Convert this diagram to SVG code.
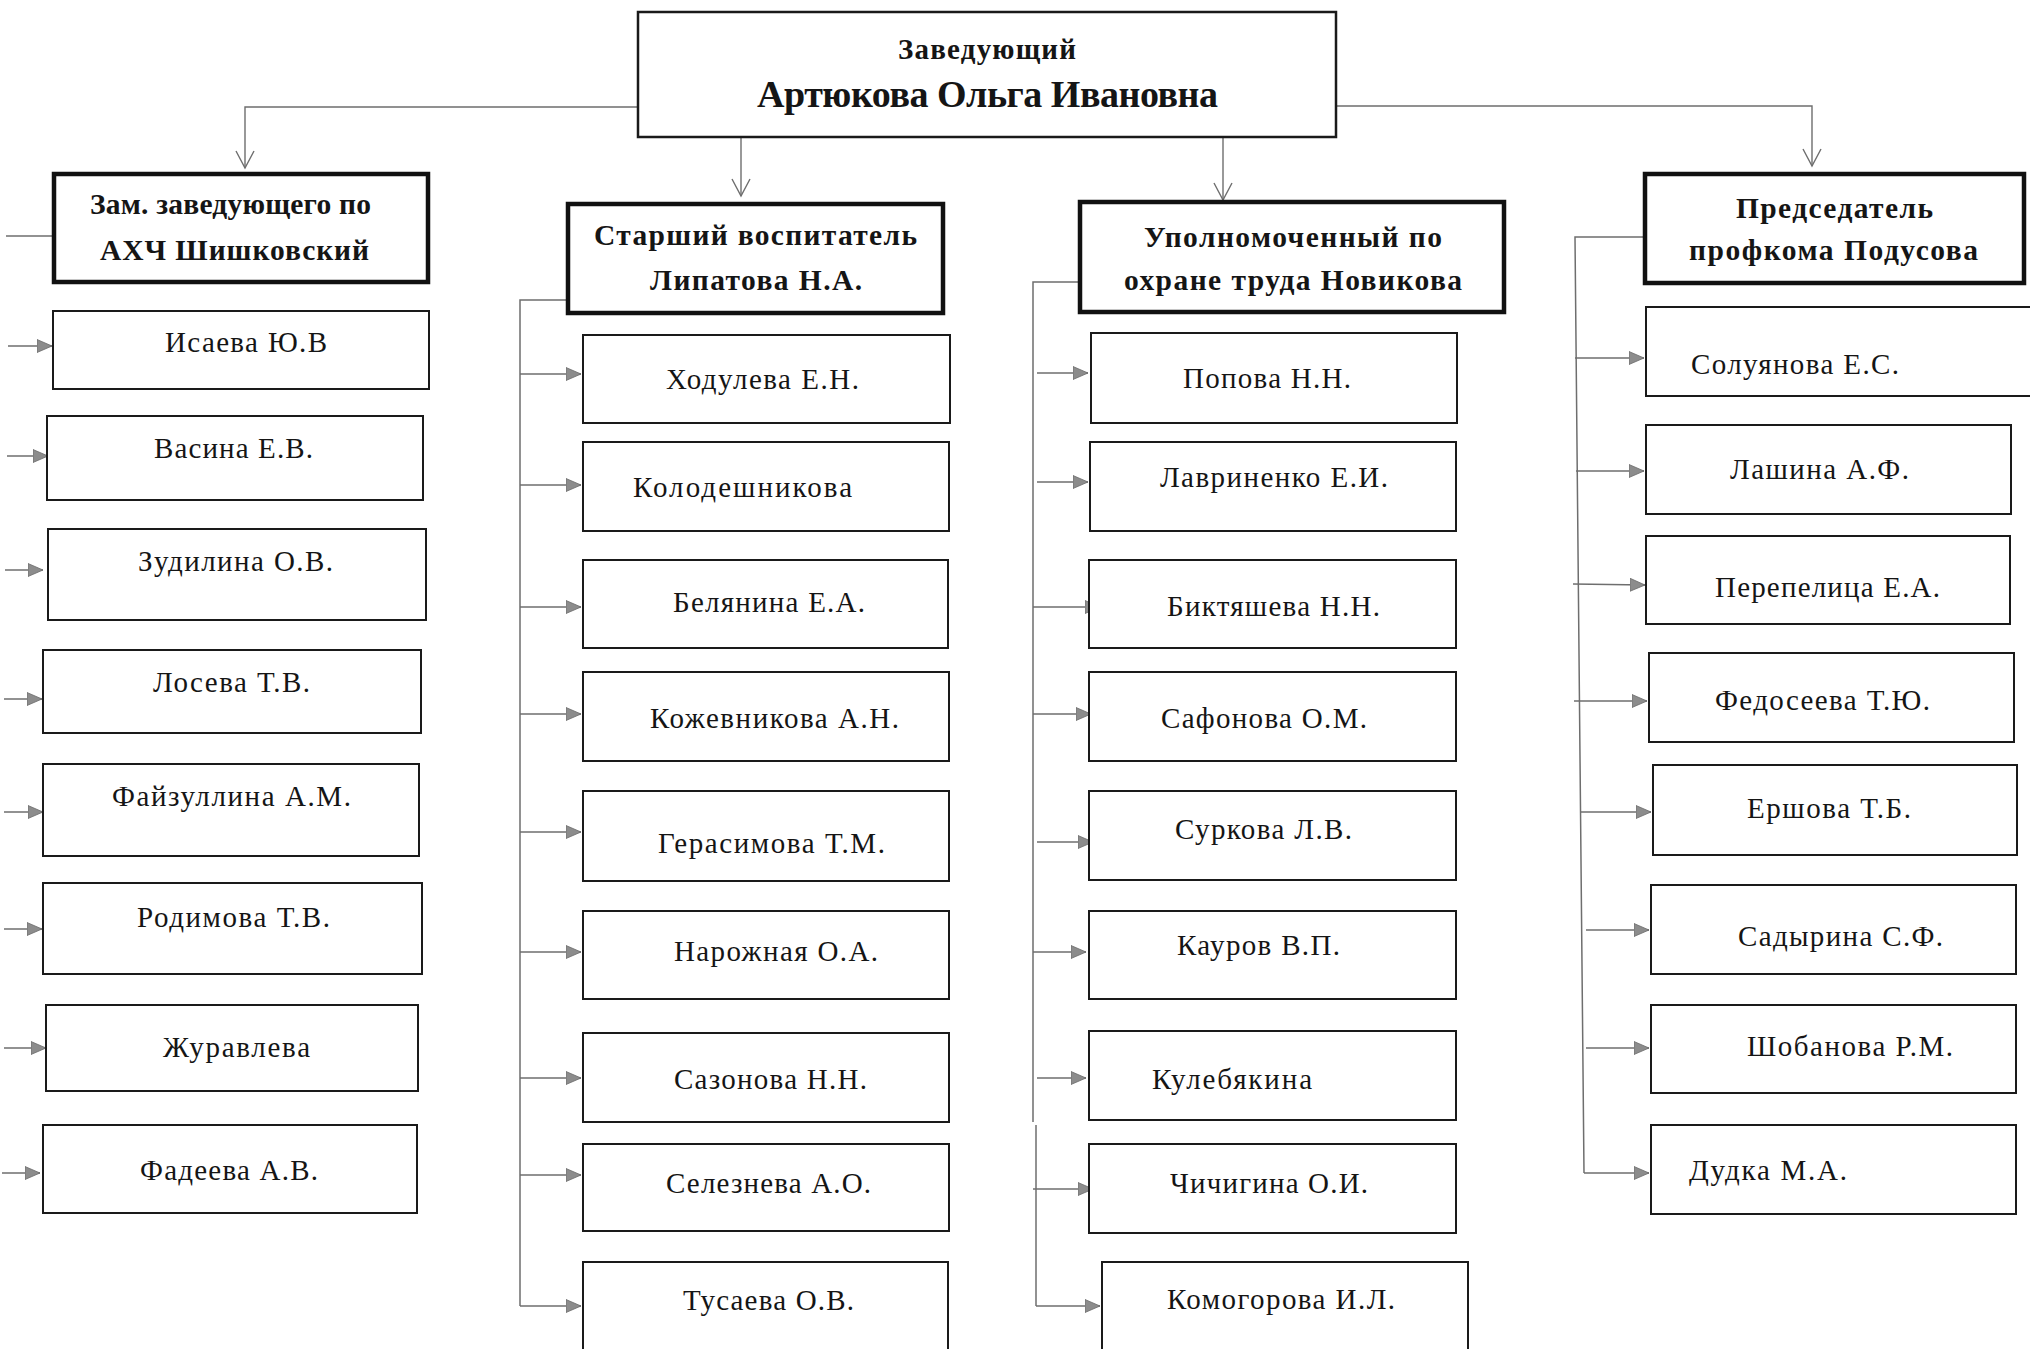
<svg xmlns="http://www.w3.org/2000/svg" width="2030" height="1349" viewBox="0 0 2030 1349">
<style>
  .bg{fill:#ffffff}
  .box{fill:#ffffff;stroke:#1a1a1a;stroke-width:2}
  .head{fill:#ffffff;stroke:#111111;stroke-width:4.5}
  .top{fill:#ffffff;stroke:#1a1a1a;stroke-width:2.5}
  .t{font-family:"Liberation Serif","Times New Roman",serif;fill:#151515}
  .b{font-weight:bold;font-size:29.5px}
  .t1{font-weight:bold;font-size:29px}
  .t2{font-weight:bold;font-size:38px}
  .n{font-size:29px}
  .ln{fill:none;stroke:#6e6e6e;stroke-width:1.5}
  .ar{fill:none;stroke:#6e6e6e;stroke-width:1.5;marker-end:url(#fa)}
  .va{fill:none;stroke:#6e6e6e;stroke-width:1.4;marker-end:url(#va)}
</style>
<defs>
  <marker id="fa" viewBox="0 0 16 14" refX="15" refY="7" markerWidth="16" markerHeight="14" markerUnits="userSpaceOnUse" orient="auto">
    <path d="M0,0.5 L15,7 L0,13.5 z" fill="#8c8c8c" stroke="#6a6a6a" stroke-width="0.8"/>
  </marker>
  <marker id="va" viewBox="0 -11 18 22" refX="17" refY="0" markerWidth="18" markerHeight="22" markerUnits="userSpaceOnUse" orient="auto" overflow="visible">
    <path d="M0,-9 L17,0 L0,9" fill="none" stroke="#6e6e6e" stroke-width="1.4"/>
  </marker>
</defs>
<rect class="bg" x="0" y="0" width="2030" height="1349"/>

<g id="connectors">
  <polyline class="va" points="638,107 245,107 245,168"/>
  <polyline class="va" points="741,137 741,196"/>
  <polyline class="va" points="1223,137 1223,200"/>
  <polyline class="va" points="1336,106 1812,106 1812,166"/>
  <line class="ln" x1="6" y1="236" x2="54" y2="236"/>
  <line class="ar" x1="8" y1="346" x2="52" y2="346"/>
  <line class="ar" x1="7" y1="456" x2="48" y2="456"/>
  <line class="ar" x1="5" y1="570" x2="43" y2="570"/>
  <line class="ar" x1="4" y1="699" x2="42" y2="699"/>
  <line class="ar" x1="4" y1="812" x2="43" y2="812"/>
  <line class="ar" x1="4" y1="929" x2="42" y2="929"/>
  <line class="ar" x1="4" y1="1048" x2="46" y2="1048"/>
  <line class="ar" x1="2" y1="1173" x2="40" y2="1173"/>
  <polyline class="ln" points="568,300 520,300 520,1306"/>
  <line class="ar" x1="520" y1="374" x2="581" y2="374"/>
  <line class="ar" x1="520" y1="485" x2="581" y2="485"/>
  <line class="ar" x1="520" y1="607" x2="581" y2="607"/>
  <line class="ar" x1="520" y1="714" x2="581" y2="714"/>
  <line class="ar" x1="520" y1="832" x2="581" y2="832"/>
  <line class="ar" x1="520" y1="952" x2="581" y2="952"/>
  <line class="ar" x1="520" y1="1078" x2="581" y2="1078"/>
  <line class="ar" x1="520" y1="1175" x2="581" y2="1175"/>
  <line class="ar" x1="520" y1="1306" x2="581" y2="1306"/>
  <polyline class="ln" points="1080,282 1033,282 1033,1122"/>
  <line class="ln" x1="1036" y1="1125" x2="1036" y2="1306"/>
  <line class="ar" x1="1037" y1="373" x2="1088" y2="373"/>
  <line class="ar" x1="1037" y1="482" x2="1088" y2="482"/>
  <line class="ar" x1="1033" y1="607" x2="1100" y2="607"/>
  <line class="ar" x1="1033" y1="714" x2="1091" y2="714"/>
  <line class="ar" x1="1037" y1="842" x2="1093" y2="842"/>
  <line class="ar" x1="1033" y1="952" x2="1086" y2="952"/>
  <line class="ar" x1="1037" y1="1078" x2="1086" y2="1078"/>
  <line class="ar" x1="1033" y1="1189" x2="1093" y2="1189"/>
  <line class="ar" x1="1036" y1="1306" x2="1100" y2="1306"/>
  <polyline class="ln" points="1645,237 1575,237 1584,1173"/>
  <line class="ar" x1="1575" y1="358" x2="1644" y2="358"/>
  <line class="ar" x1="1576" y1="471" x2="1644" y2="471"/>
  <line class="ar" x1="1573" y1="584" x2="1645" y2="585"/>
  <line class="ar" x1="1574" y1="701" x2="1647" y2="701"/>
  <line class="ar" x1="1581" y1="812" x2="1651" y2="812"/>
  <line class="ar" x1="1586" y1="930" x2="1649" y2="930"/>
  <line class="ar" x1="1586" y1="1048" x2="1649" y2="1048"/>
  <line class="ar" x1="1584" y1="1173" x2="1649" y2="1173"/>
</g>

<g id="director">
  <rect class="top" x="638" y="12" width="698" height="125"/>
  <text class="t t1" x="898" y="59" textLength="178" lengthAdjust="spacing">Заведующий</text>
  <text class="t t2" x="757" y="107" textLength="461" lengthAdjust="spacing">Артюкова Ольга Ивановна</text>
</g>

<g id="head-ahch">
  <rect class="head" x="54" y="174" width="374" height="108"/>
  <text class="t b" x="90" y="214" textLength="281" lengthAdjust="spacing">Зам. заведующего по</text>
  <text class="t b" x="100" y="260" textLength="269" lengthAdjust="spacing">АХЧ Шишковский</text>
</g>
<g id="head-senior">
  <rect class="head" x="568" y="204" width="375" height="109"/>
  <text class="t b" x="594" y="245" textLength="323" lengthAdjust="spacing">Старший воспитатель</text>
  <text class="t b" x="650" y="290" textLength="212" lengthAdjust="spacing">Липатова Н.А.</text>
</g>
<g id="head-safety">
  <rect class="head" x="1080" y="202" width="424" height="110"/>
  <text class="t b" x="1144" y="247" textLength="298" lengthAdjust="spacing">Уполномоченный по</text>
  <text class="t b" x="1124" y="290" textLength="338" lengthAdjust="spacing">охране труда Новикова</text>
</g>
<g id="head-union">
  <rect class="head" x="1645" y="174" width="379" height="109"/>
  <text class="t b" x="1736" y="218" textLength="197" lengthAdjust="spacing">Председатель</text>
  <text class="t b" x="1689" y="260" textLength="289" lengthAdjust="spacing">профкома Подусова</text>
</g>

<g id="l1"><rect class="box" x="53" y="311" width="376" height="78"/><text class="t n" x="165" y="352" textLength="162" lengthAdjust="spacing">Исаева Ю.В</text></g>
<g id="l2"><rect class="box" x="47" y="416" width="376" height="84"/><text class="t n" x="154" y="458" textLength="159" lengthAdjust="spacing">Васина Е.В.</text></g>
<g id="l3"><rect class="box" x="48" y="529" width="378" height="91"/><text class="t n" x="138" y="571" textLength="195" lengthAdjust="spacing">Зудилина О.В.</text></g>
<g id="l4"><rect class="box" x="43" y="650" width="378" height="83"/><text class="t n" x="153" y="692" textLength="157" lengthAdjust="spacing">Лосева Т.В.</text></g>
<g id="l5"><rect class="box" x="43" y="764" width="376" height="92"/><text class="t n" x="112" y="806" textLength="239" lengthAdjust="spacing">Файзуллина А.М.</text></g>
<g id="l6"><rect class="box" x="43" y="883" width="379" height="91"/><text class="t n" x="137" y="927" textLength="193" lengthAdjust="spacing">Родимова Т.В.</text></g>
<g id="l7"><rect class="box" x="46" y="1005" width="372" height="86"/><text class="t n" x="163" y="1057" textLength="147" lengthAdjust="spacing">Журавлева</text></g>
<g id="l8"><rect class="box" x="43" y="1125" width="374" height="88"/><text class="t n" x="140" y="1180" textLength="178" lengthAdjust="spacing">Фадеева А.В.</text></g>

<g id="s1"><rect class="box" x="583" y="335" width="367" height="88"/><text class="t n" x="666" y="389" textLength="193" lengthAdjust="spacing">Ходулева Е.Н.</text></g>
<g id="s2"><rect class="box" x="583" y="442" width="366" height="89"/><text class="t n" x="633" y="497" textLength="219" lengthAdjust="spacing">Колодешникова</text></g>
<g id="s3"><rect class="box" x="583" y="560" width="365" height="88"/><text class="t n" x="673" y="612" textLength="192" lengthAdjust="spacing">Белянина Е.А.</text></g>
<g id="s4"><rect class="box" x="583" y="672" width="366" height="89"/><text class="t n" x="650" y="728" textLength="249" lengthAdjust="spacing">Кожевникова А.Н.</text></g>
<g id="s5"><rect class="box" x="583" y="791" width="366" height="90"/><text class="t n" x="658" y="853" textLength="227" lengthAdjust="spacing">Герасимова Т.М.</text></g>
<g id="s6"><rect class="box" x="583" y="911" width="366" height="88"/><text class="t n" x="674" y="961" textLength="204" lengthAdjust="spacing">Нарожная О.А.</text></g>
<g id="s7"><rect class="box" x="583" y="1033" width="366" height="89"/><text class="t n" x="674" y="1089" textLength="193" lengthAdjust="spacing">Сазонова Н.Н.</text></g>
<g id="s8"><rect class="box" x="583" y="1144" width="366" height="87"/><text class="t n" x="666" y="1193" textLength="205" lengthAdjust="spacing">Селезнева А.О.</text></g>
<g id="s9"><rect class="box" x="583" y="1262" width="365" height="92"/><text class="t n" x="683" y="1310" textLength="171" lengthAdjust="spacing">Тусаева О.В.</text></g>

<g id="u1"><rect class="box" x="1091" y="333" width="366" height="90"/><text class="t n" x="1183" y="388" textLength="168" lengthAdjust="spacing">Попова Н.Н.</text></g>
<g id="u2"><rect class="box" x="1090" y="442" width="366" height="89"/><text class="t n" x="1160" y="487" textLength="228" lengthAdjust="spacing">Лавриненко Е.И.</text></g>
<g id="u3"><rect class="box" x="1089" y="560" width="367" height="88"/><text class="t n" x="1167" y="616" textLength="213" lengthAdjust="spacing">Биктяшева Н.Н.</text></g>
<g id="u4"><rect class="box" x="1089" y="672" width="367" height="89"/><text class="t n" x="1161" y="728" textLength="206" lengthAdjust="spacing">Сафонова О.М.</text></g>
<g id="u5"><rect class="box" x="1089" y="791" width="367" height="89"/><text class="t n" x="1175" y="839" textLength="177" lengthAdjust="spacing">Суркова Л.В.</text></g>
<g id="u6"><rect class="box" x="1089" y="911" width="367" height="88"/><text class="t n" x="1177" y="955" textLength="163" lengthAdjust="spacing">Кауров В.П.</text></g>
<g id="u7"><rect class="box" x="1089" y="1031" width="367" height="89"/><text class="t n" x="1152" y="1089" textLength="160" lengthAdjust="spacing">Кулебякина</text></g>
<g id="u8"><rect class="box" x="1089" y="1144" width="367" height="89"/><text class="t n" x="1170" y="1193" textLength="198" lengthAdjust="spacing">Чичигина О.И.</text></g>
<g id="u9"><rect class="box" x="1102" y="1262" width="366" height="92"/><text class="t n" x="1167" y="1309" textLength="228" lengthAdjust="spacing">Комогорова И.Л.</text></g>

<g id="p1"><rect class="box" x="1646" y="307" width="390" height="89"/><text class="t n" x="1691" y="374" textLength="208" lengthAdjust="spacing">Солуянова Е.С.</text></g>
<g id="p2"><rect class="box" x="1646" y="425" width="365" height="89"/><text class="t n" x="1730" y="479" textLength="179" lengthAdjust="spacing">Лашина А.Ф.</text></g>
<g id="p3"><rect class="box" x="1646" y="536" width="364" height="88"/><text class="t n" x="1715" y="597" textLength="225" lengthAdjust="spacing">Перепелица Е.А.</text></g>
<g id="p4"><rect class="box" x="1649" y="653" width="365" height="89"/><text class="t n" x="1715" y="710" textLength="215" lengthAdjust="spacing">Федосеева Т.Ю.</text></g>
<g id="p5"><rect class="box" x="1653" y="765" width="364" height="90"/><text class="t n" x="1747" y="818" textLength="164" lengthAdjust="spacing">Ершова Т.Б.</text></g>
<g id="p6"><rect class="box" x="1651" y="885" width="365" height="89"/><text class="t n" x="1738" y="946" textLength="205" lengthAdjust="spacing">Садырина С.Ф.</text></g>
<g id="p7"><rect class="box" x="1651" y="1005" width="365" height="88"/><text class="t n" x="1747" y="1056" textLength="206" lengthAdjust="spacing">Шобанова Р.М.</text></g>
<g id="p8"><rect class="box" x="1651" y="1125" width="365" height="89"/><text class="t n" x="1689" y="1180" textLength="158" lengthAdjust="spacing">Дудка М.А.</text></g>
</svg>
